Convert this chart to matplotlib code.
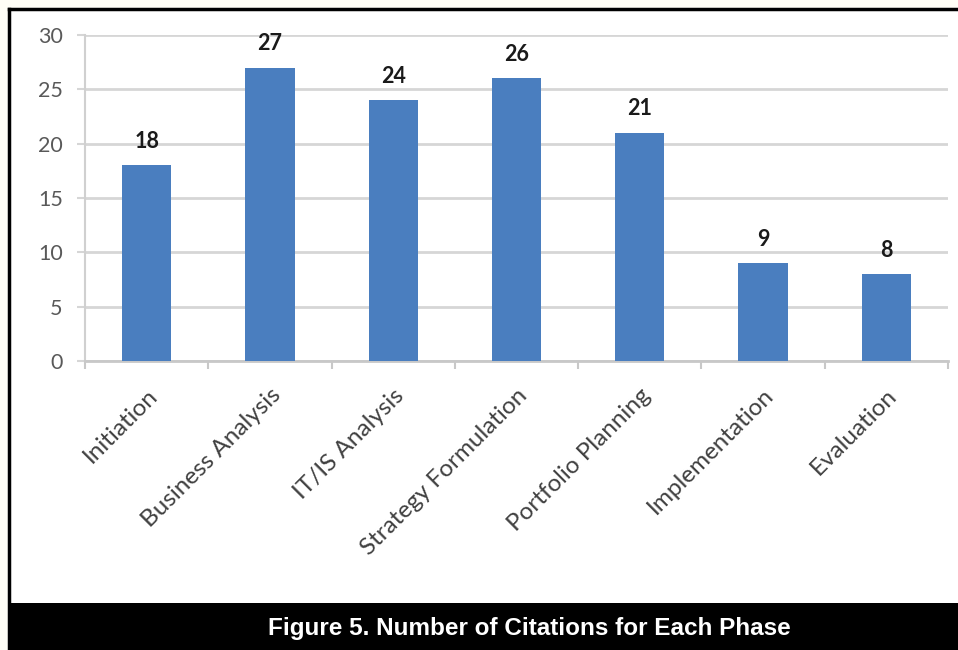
import matplotlib.pyplot as plt
from matplotlib.patches import Rectangle
import numpy as np

# 各阶段引用次数
phases = ['Initiation', 'Business Analysis', 'IT/IS Analysis', 'Strategy Formulation',
          'Portfolio Planning', 'Implementation', 'Evaluation']
citations = [18, 27, 24, 26, 21, 9, 8]
yticks = [0, 5, 10, 15, 20, 25, 30]
caption = 'Figure 5. Number of Citations for Each Phase'

fig = plt.figure(figsize=(9.58, 6.5), dpi=100)
fig.patch.set_facecolor('#fffef6')

# 白色底框和黑色边框
fig.patches.append(Rectangle((9 / 958, 0), 1, 1 - 9 / 650, transform=fig.transFigure,
                             facecolor='white', edgecolor='none', zorder=-2))
fig.lines.append(plt.Line2D([9 / 958, 1], [1 - 9 / 650, 1 - 9 / 650], transform=fig.transFigure,
                            color='black', lw=2.5))
fig.lines.append(plt.Line2D([9 / 958, 9 / 958], [0, 1 - 9 / 650], transform=fig.transFigure,
                            color='black', lw=2.5))
# 底部标题栏
fig.patches.append(Rectangle((8 / 958, 0), 1, 47 / 650, transform=fig.transFigure,
                             facecolor='black', edgecolor='none', zorder=1))
fig.text(529 / 958, 1 - 635 / 650, caption, color='white', fontsize=17.5, fontweight='bold',
         family='Liberation Sans', ha='center', va='baseline', zorder=2)

ax = fig.add_axes([85 / 958, 1 - 361 / 650, (948 - 85) / 958, (361 - 35) / 650])
ax.set_facecolor('none')

x = np.arange(len(phases))
ax.bar(x, citations, width=0.4, color='#4a7ebf', zorder=3)

# 数值标签
for xi, v in zip(x, citations):
    ax.text(xi, v + 1.6, str(v), ha='center', va='baseline', fontsize=15.5, fontweight='bold',
            family='Lato', color='#1a1a1a')

ax.set_xlim(-0.5, len(phases) - 0.5)
ax.set_ylim(0, 30)
ax.set_yticks(yticks)
ax.yaxis.grid(True, color='#d6d6d6', lw=2)
ax.set_axisbelow(True)
ax.tick_params(axis='y', length=6, width=1.5, color='#d6d6d6', labelsize=15.5,
               labelcolor='#595959', pad=10)
for lab in ax.get_yticklabels():
    lab.set_family('Lato')

ax.set_xticks(x)
ax.set_xticklabels(phases, rotation=45, ha='right', rotation_mode='anchor',
                   fontsize=17.5, color='#404040', family='Lato')
ax.tick_params(axis='x', which='major', length=0, pad=17)
ax.set_xticks(np.arange(-0.5, len(phases)), minor=True)
ax.tick_params(axis='x', which='minor', length=6, width=1.5, color='#c8c8c8')

for s in ['top', 'right']:
    ax.spines[s].set_visible(False)
ax.spines['left'].set_color('#d0d0d0')
ax.spines['left'].set_linewidth(1.5)
ax.spines['bottom'].set_color('#c8c8c8')
ax.spines['bottom'].set_linewidth(2)

plt.savefig('out.png', dpi=100, facecolor=fig.get_facecolor())
